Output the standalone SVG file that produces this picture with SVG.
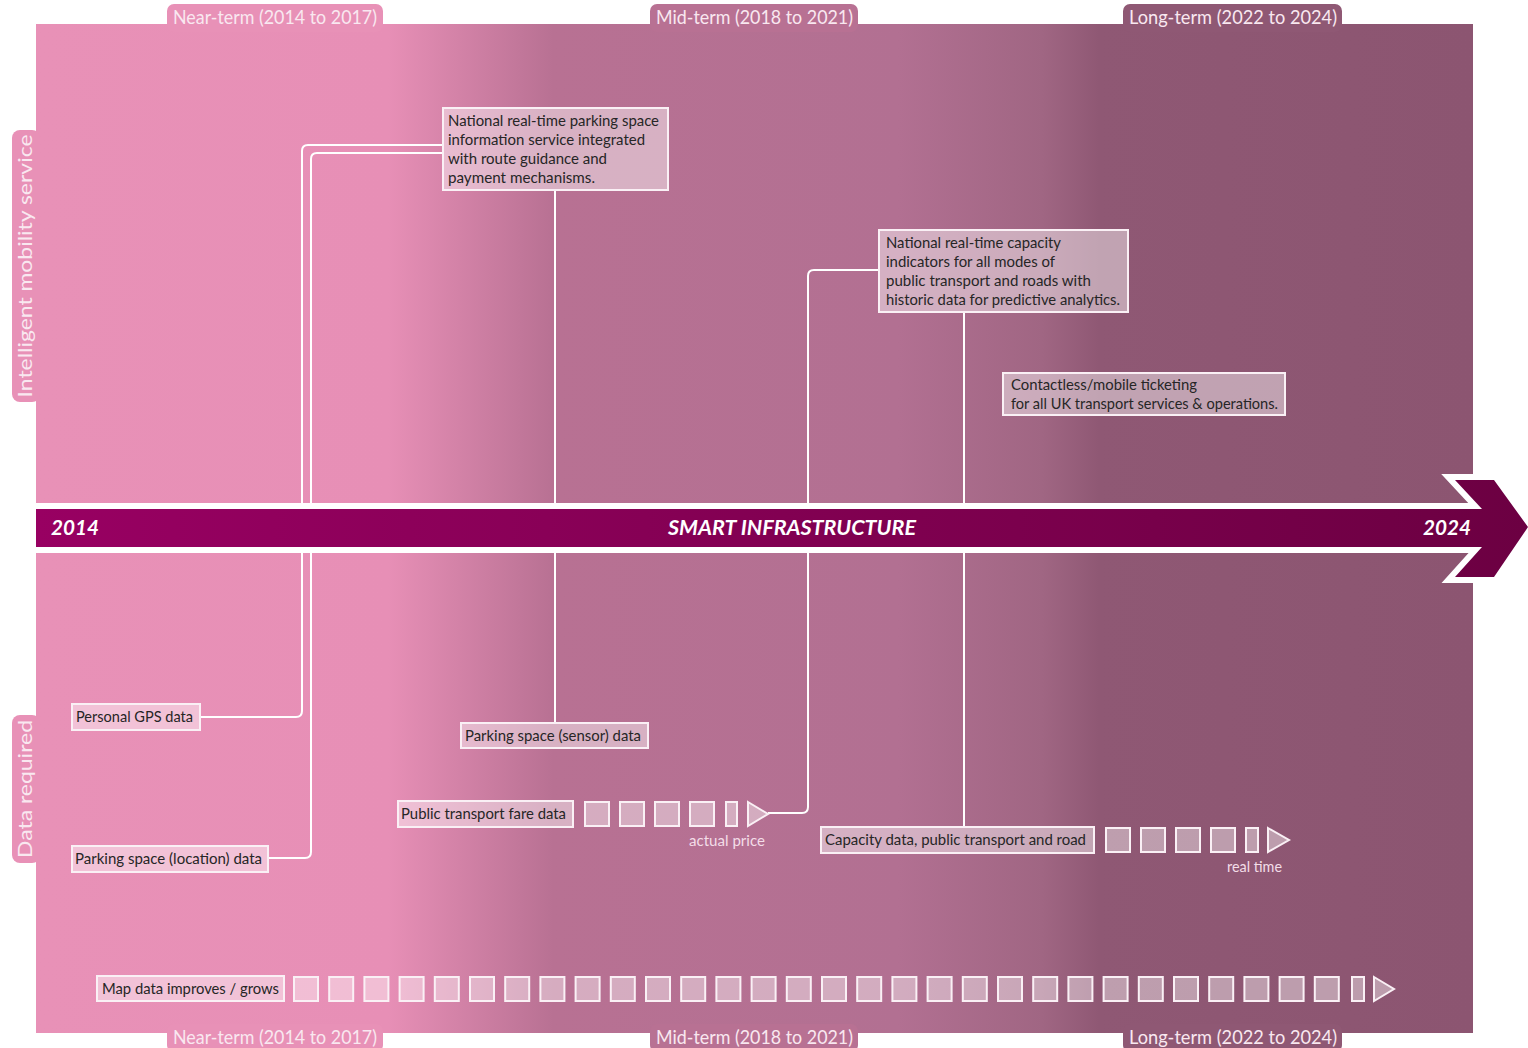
<svg xmlns="http://www.w3.org/2000/svg" width="1528" height="1048" viewBox="0 0 1528 1048">
  <defs>
    <linearGradient id="bg" gradientUnits="userSpaceOnUse" x1="36" y1="0" x2="1473" y2="0">
      <stop offset="0" stop-color="#E891B7"/>
      <stop offset="0.245" stop-color="#E78FB6"/>
      <stop offset="0.36" stop-color="#B87193"/>
      <stop offset="0.6" stop-color="#B27092"/>
      <stop offset="0.7" stop-color="#A06683"/>
      <stop offset="0.74" stop-color="#8F5874"/>
      <stop offset="1" stop-color="#8C5571"/>
    </linearGradient>
    <linearGradient id="bar" gradientUnits="userSpaceOnUse" x1="36" y1="0" x2="1528" y2="0">
      <stop offset="0" stop-color="#980062"/>
      <stop offset="1" stop-color="#6C0042"/>
    </linearGradient>
    <style>
      .hdr { font-family: Lato, "Liberation Sans", sans-serif; font-size: 20px; fill: #F9E8F0; }
      .side { font-family: Lato, "Liberation Sans", sans-serif; font-size: 20px; fill: #F9E8F0; text-anchor: middle; }
      .box { fill: rgba(255,255,255,0.45); stroke: #FAF0F5; stroke-width: 2; }
      .sq { fill: rgba(255,255,255,0.42); stroke: #FAF0F5; stroke-width: 2; }
      .lbl { font-family: Lato, "Liberation Sans", sans-serif; font-size: 15px; fill: #262626; }
      .note { font-family: Lato, "Liberation Sans", sans-serif; font-size: 15px; fill: #F3DDE8; }
      .tl { font-family: Lato, "Liberation Sans", sans-serif; font-size: 21px; font-weight: bold; font-style: italic; fill: #FFFFFF; }
      .conn { fill: none; stroke: #FFFFFF; stroke-width: 2; }
    </style>
    <g id="sqrow">
      <rect class="sq" x="0" y="0" width="24" height="24"/>
    </g>
    <path id="arrow" d="M36,509 H1482 L1455,480 H1494 L1528,527 L1494,577 H1455 L1482,547 H36 Z"/>
  </defs>

  <!-- background panel -->
  <rect x="36" y="24" width="1437" height="1009" fill="url(#bg)"/>

  <!-- period headers -->
  <g id="headers-top">
    <rect x="167" y="4" width="216" height="28" rx="7" fill="#E891B7"/>
    <rect x="650" y="4" width="208" height="28" rx="7" fill="#B87193"/>
    <rect x="1123" y="4" width="219" height="28" rx="7" fill="#8F5874"/>
    <text class="hdr" x="173" y="24" textLength="204" lengthAdjust="spacingAndGlyphs">Near-term (2014 to 2017)</text>
    <text class="hdr" x="656" y="24" textLength="197" lengthAdjust="spacingAndGlyphs">Mid-term (2018 to 2021)</text>
    <text class="hdr" x="1129" y="24" textLength="208" lengthAdjust="spacingAndGlyphs">Long-term (2022 to 2024)</text>
  </g>
  <g id="headers-bottom">
    <rect x="167" y="1024" width="216" height="28" rx="7" fill="#E891B7"/>
    <rect x="650" y="1024" width="208" height="28" rx="7" fill="#B87193"/>
    <rect x="1123" y="1024" width="219" height="28" rx="7" fill="#8F5874"/>
    <text class="hdr" x="173" y="1044" textLength="204" lengthAdjust="spacingAndGlyphs">Near-term (2014 to 2017)</text>
    <text class="hdr" x="656" y="1044" textLength="197" lengthAdjust="spacingAndGlyphs">Mid-term (2018 to 2021)</text>
    <text class="hdr" x="1129" y="1044" textLength="208" lengthAdjust="spacingAndGlyphs">Long-term (2022 to 2024)</text>
  </g>

  <!-- side labels -->
  <g id="side-labels">
    <rect x="12" y="130" width="28" height="272" rx="8" fill="#E891B7"/>
    <rect x="12" y="715" width="28" height="148" rx="8" fill="#E891B7"/>
    <text class="side" transform="translate(32,266) rotate(-90)" textLength="263" lengthAdjust="spacingAndGlyphs">Intelligent mobility service</text>
    <text class="side" transform="translate(32,789) rotate(-90)" textLength="138" lengthAdjust="spacingAndGlyphs">Data required</text>
  </g>

  <!-- connectors -->
  <g id="connectors">
    <path class="conn" d="M443,145 H308 Q302,145 302,151 V711 Q302,717 296,717 H200"/>
    <path class="conn" d="M443,153 H317 Q311,153 311,159 V852 Q311,858 305,858 H268"/>
    <path class="conn" d="M555,190 V723"/>
    <path class="conn" d="M879,270 H814 Q808,270 808,276 V807 Q808,813 802,813 H768"/>
    <path class="conn" d="M964,312 V827"/>
  </g>

  <!-- timeline arrow -->
  <g id="timeline">
    <use href="#arrow" fill="#FFFFFF" stroke="#FFFFFF" stroke-width="12" stroke-linejoin="miter"/>
    <use href="#arrow" fill="url(#bar)"/>
    <text class="tl" x="51" y="535" textLength="48" lengthAdjust="spacingAndGlyphs">2014</text>
    <text class="tl" x="668" y="535" textLength="248" lengthAdjust="spacingAndGlyphs">SMART INFRASTRUCTURE</text>
    <text class="tl" x="1423" y="535" textLength="48" lengthAdjust="spacingAndGlyphs">2024</text>
  </g>

  <!-- service boxes -->
  <g id="node-parking-service">
    <rect class="box" x="443" y="108" width="225" height="82"/>
    <text class="lbl" x="448" y="126" textLength="211" lengthAdjust="spacingAndGlyphs">National real-time parking space</text>
    <text class="lbl" x="448" y="145" textLength="197" lengthAdjust="spacingAndGlyphs">information service integrated</text>
    <text class="lbl" x="448" y="164" textLength="159" lengthAdjust="spacingAndGlyphs">with route guidance and</text>
    <text class="lbl" x="448" y="183" textLength="147" lengthAdjust="spacingAndGlyphs">payment mechanisms.</text>
  </g>
  <g id="node-capacity-indicators">
    <rect class="box" x="879" y="230" width="249" height="82"/>
    <text class="lbl" x="886" y="248" textLength="175" lengthAdjust="spacingAndGlyphs">National real-time capacity</text>
    <text class="lbl" x="886" y="267" textLength="169" lengthAdjust="spacingAndGlyphs">indicators for all modes of</text>
    <text class="lbl" x="886" y="286" textLength="205" lengthAdjust="spacingAndGlyphs">public transport and roads with</text>
    <text class="lbl" x="886" y="305" textLength="234" lengthAdjust="spacingAndGlyphs">historic data for predictive analytics.</text>
  </g>
  <g id="node-ticketing">
    <rect class="box" x="1003" y="373" width="282" height="42"/>
    <text class="lbl" x="1011" y="390" textLength="186" lengthAdjust="spacingAndGlyphs">Contactless/mobile ticketing</text>
    <text class="lbl" x="1011" y="409" textLength="267" lengthAdjust="spacingAndGlyphs">for all UK transport services &amp; operations.</text>
  </g>

  <!-- data boxes -->
  <g id="node-gps">
    <rect class="box" x="72" y="704" width="128" height="26"/>
    <text class="lbl" x="76" y="722" textLength="117" lengthAdjust="spacingAndGlyphs">Personal GPS data</text>
  </g>
  <g id="node-parking-sensor">
    <rect class="box" x="461" y="723" width="187" height="25"/>
    <text class="lbl" x="465" y="741" textLength="176" lengthAdjust="spacingAndGlyphs">Parking space (sensor) data</text>
  </g>
  <g id="node-fare-data">
    <rect class="box" x="398" y="801" width="175" height="26"/>
    <text class="lbl" x="401" y="819" textLength="165" lengthAdjust="spacingAndGlyphs">Public transport fare data</text>
    <use href="#sqrow" x="585" y="802"/>
    <use href="#sqrow" x="620" y="802"/>
    <use href="#sqrow" x="655" y="802"/>
    <use href="#sqrow" x="690" y="802"/>
    <rect class="sq" x="726" y="802" width="11" height="24"/>
    <polygon class="sq" points="748,802 768,814 748,826"/>
    <text class="note" x="689" y="846" textLength="76" lengthAdjust="spacingAndGlyphs">actual price</text>
  </g>
  <g id="node-parking-location">
    <rect class="box" x="72" y="846" width="196" height="26"/>
    <text class="lbl" x="75" y="864" textLength="187" lengthAdjust="spacingAndGlyphs">Parking space (location) data</text>
  </g>
  <g id="node-capacity-data">
    <rect class="box" x="821" y="827" width="273" height="26"/>
    <text class="lbl" x="825" y="845" textLength="261" lengthAdjust="spacingAndGlyphs">Capacity data, public transport and road</text>
    <use href="#sqrow" x="1106" y="828"/>
    <use href="#sqrow" x="1141" y="828"/>
    <use href="#sqrow" x="1176" y="828"/>
    <use href="#sqrow" x="1211" y="828"/>
    <rect class="sq" x="1246" y="828" width="12" height="24"/>
    <polygon class="sq" points="1268,828 1289,840 1268,852"/>
    <text class="note" x="1227" y="872" textLength="55" lengthAdjust="spacingAndGlyphs">real time</text>
  </g>
  <g id="node-map-data">
    <rect class="box" x="97" y="976" width="187" height="25"/>
    <text class="lbl" x="102" y="994" textLength="177" lengthAdjust="spacingAndGlyphs">Map data improves / grows</text>
    <use href="#sqrow" x="294" y="977"/>
    <use href="#sqrow" x="329.2" y="977"/>
    <use href="#sqrow" x="364.4" y="977"/>
    <use href="#sqrow" x="399.6" y="977"/>
    <use href="#sqrow" x="434.8" y="977"/>
    <use href="#sqrow" x="470" y="977"/>
    <use href="#sqrow" x="505.2" y="977"/>
    <use href="#sqrow" x="540.4" y="977"/>
    <use href="#sqrow" x="575.6" y="977"/>
    <use href="#sqrow" x="610.8" y="977"/>
    <use href="#sqrow" x="646" y="977"/>
    <use href="#sqrow" x="681.2" y="977"/>
    <use href="#sqrow" x="716.4" y="977"/>
    <use href="#sqrow" x="751.6" y="977"/>
    <use href="#sqrow" x="786.8" y="977"/>
    <use href="#sqrow" x="822" y="977"/>
    <use href="#sqrow" x="857.2" y="977"/>
    <use href="#sqrow" x="892.4" y="977"/>
    <use href="#sqrow" x="927.6" y="977"/>
    <use href="#sqrow" x="962.8" y="977"/>
    <use href="#sqrow" x="998" y="977"/>
    <use href="#sqrow" x="1033.2" y="977"/>
    <use href="#sqrow" x="1068.4" y="977"/>
    <use href="#sqrow" x="1103.6" y="977"/>
    <use href="#sqrow" x="1138.8" y="977"/>
    <use href="#sqrow" x="1174" y="977"/>
    <use href="#sqrow" x="1209.2" y="977"/>
    <use href="#sqrow" x="1244.4" y="977"/>
    <use href="#sqrow" x="1279.6" y="977"/>
    <use href="#sqrow" x="1314.8" y="977"/>
    <rect class="sq" x="1352" y="977" width="12" height="24"/>
    <polygon class="sq" points="1374,977 1394,989 1374,1001"/>
  </g>
</svg>
